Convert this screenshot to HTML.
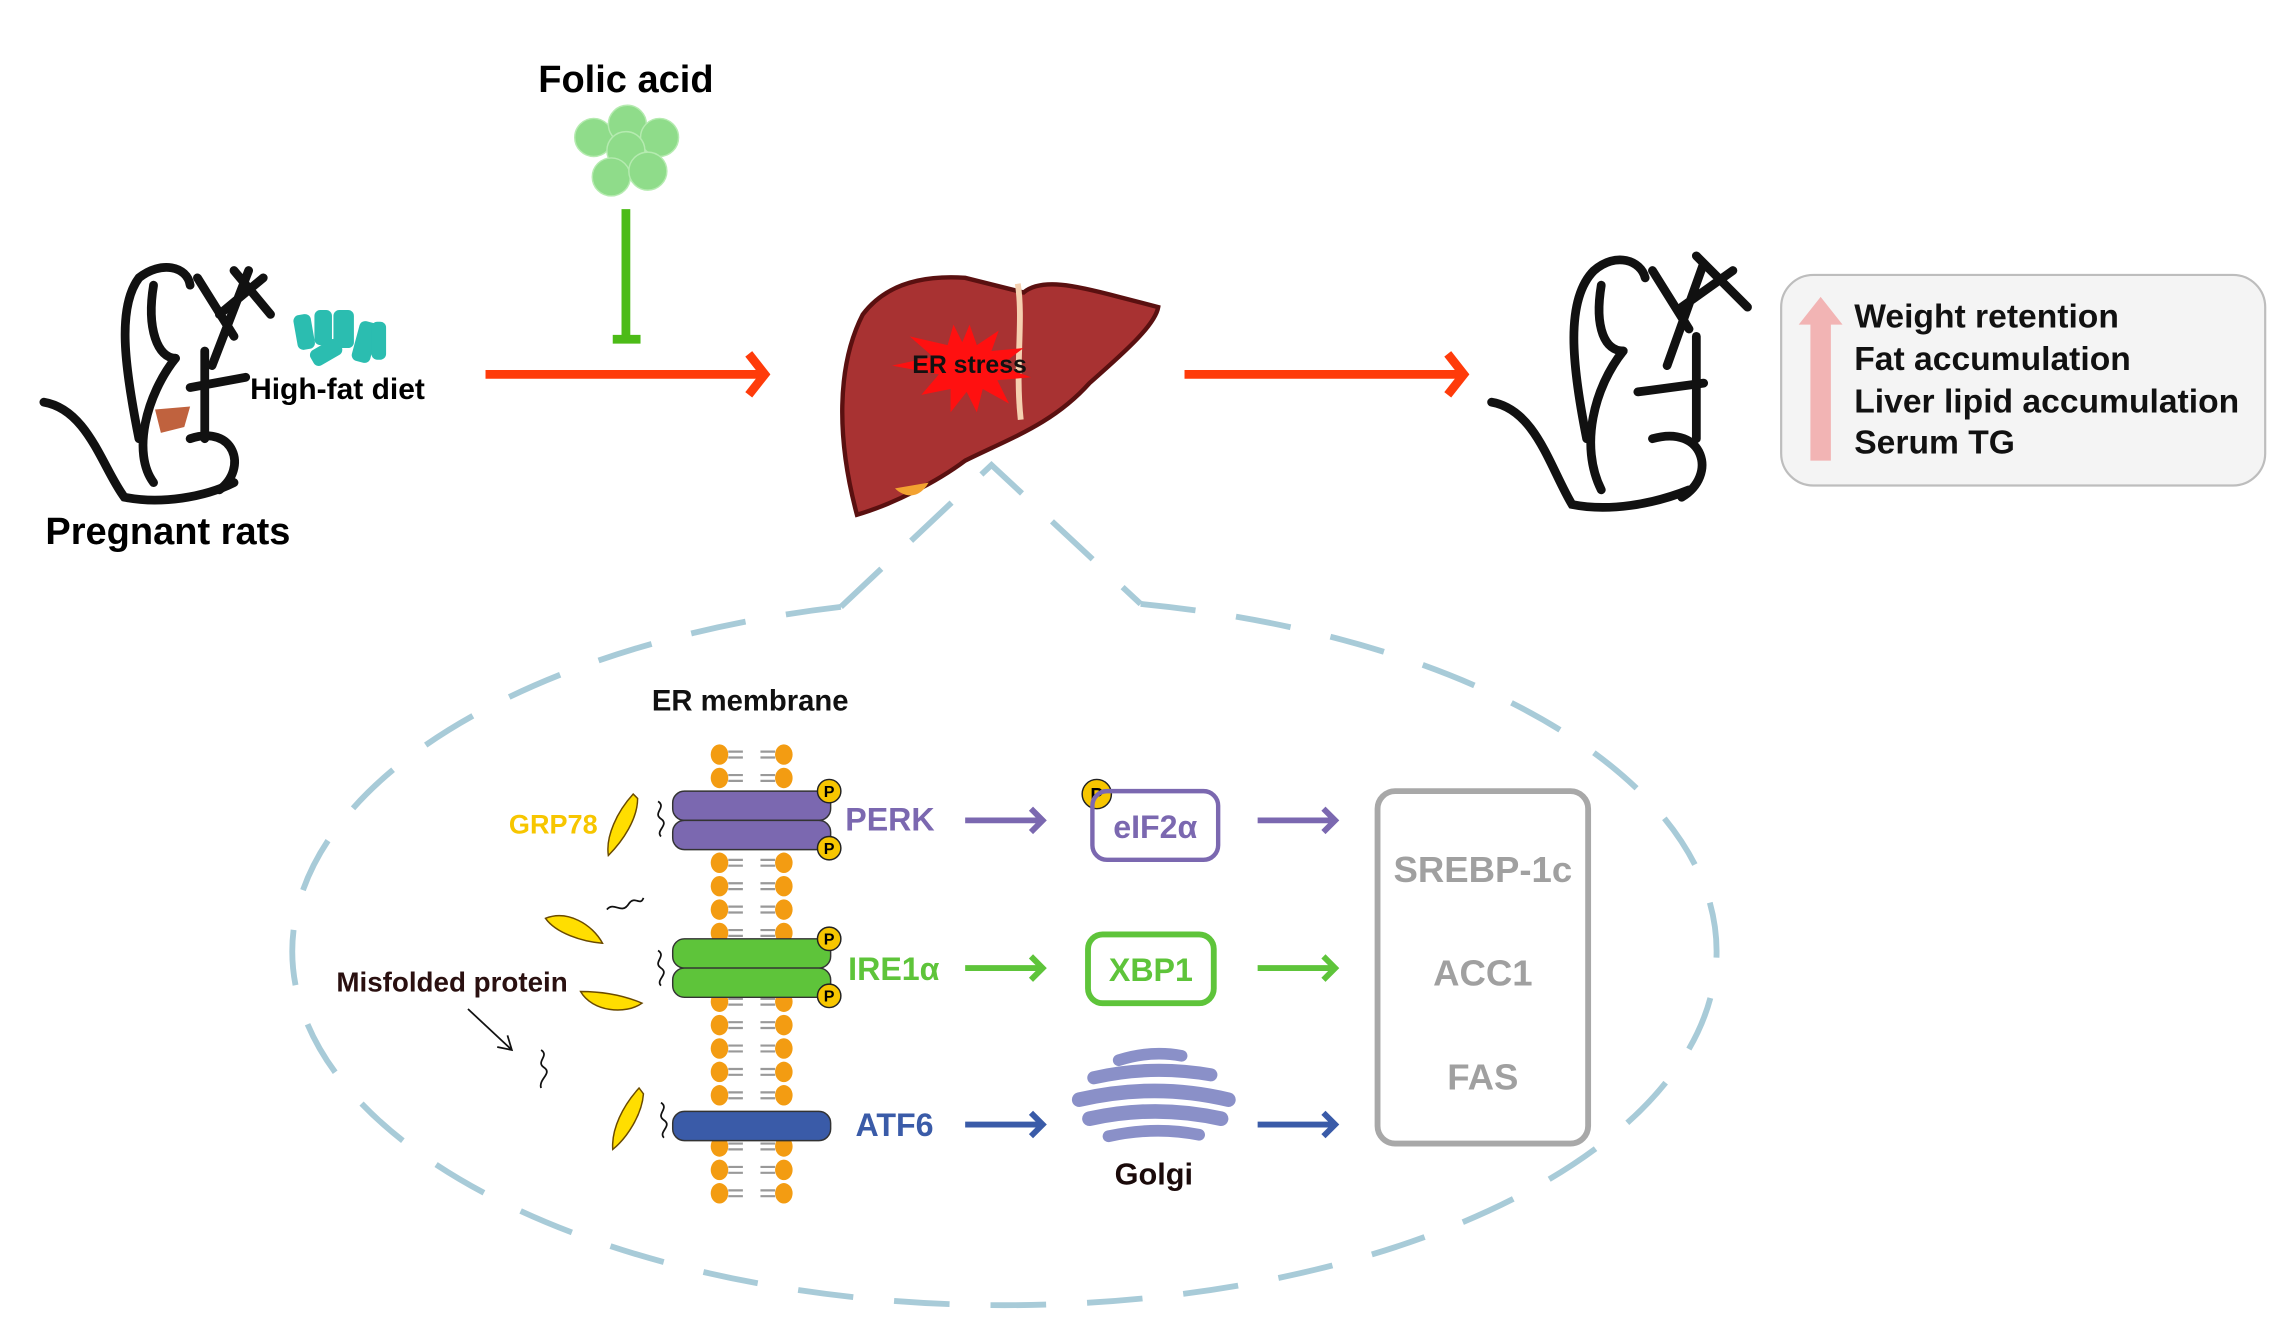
<!DOCTYPE html>
<html><head><meta charset="utf-8"><style>
html,body{margin:0;padding:0;background:#fff;}
svg{display:block;}
text{font-family:"Liberation Sans",Arial,sans-serif;font-weight:bold;}
</style></head><body>
<svg width="2293" height="1330" viewBox="0 0 1568 909.5" xmlns="http://www.w3.org/2000/svg">
<defs>
<g id="lip">
  <ellipse cx="492" cy="0" rx="6" ry="7" fill="#f39c12"/>
  <ellipse cx="536" cy="0" rx="6" ry="7" fill="#f39c12"/>
  <path d="M498,-2 H508 M498,2 H508 M530,-2 H520 M530,2 H520" stroke="#999" stroke-width="1.5"/>
</g>
</defs>
<text x="428" y="63" font-size="26" text-anchor="middle">Folic acid</text>
<g fill="#8fdc8a" stroke="#b5ebb0" stroke-width="1">
<circle cx="406" cy="94" r="13"/><circle cx="429" cy="85" r="13"/><circle cx="451" cy="94" r="13"/>
<circle cx="428" cy="103" r="13"/><circle cx="418" cy="121" r="13"/><circle cx="443" cy="117" r="13"/>
</g>
<line x1="428" y1="143" x2="428" y2="232" stroke="#4cbb17" stroke-width="6"/>
<line x1="419" y1="232" x2="438" y2="232" stroke="#4cbb17" stroke-width="6"/>
<g stroke="#ff3b0a" stroke-width="6" fill="none">
<line x1="332" y1="256" x2="522" y2="256"/><path d="M512,242 L523,256 L512,270"/>
<line x1="810" y1="256" x2="1000" y2="256"/><path d="M990,242 L1001,256 L990,270"/>
</g>
<g stroke="#111" stroke-width="6" fill="none" stroke-linecap="round">
<path d="M95,300 C85,250 80,210 95,190 C110,178 128,182 130,195"/>
<path d="M105,195 C100,225 108,245 120,245"/>
<path d="M120,245 C100,270 90,310 105,330"/>
<path d="M135,190 L160,230 M145,250 L170,185 M150,215 L180,190 M160,185 L185,215"/>
<path d="M30,275 C60,280 70,320 85,340 C110,345 140,340 160,330"/>
<path d="M130,300 C160,290 170,320 150,335"/>
<path d="M130,265 L168,258"/>
<path d="M140,240 L140,300"/>
</g>
<path d="M106,280 L130,278 L126,292 L110,296 Z" fill="#c0623e"/>
<g fill="#2bbdb0">
<rect x="202" y="215" width="12" height="24" rx="4" transform="rotate(-10 208 227)"/>
<rect x="215" y="212" width="12" height="24" rx="4"/>
<rect x="228" y="212" width="14" height="26" rx="4"/>
<rect x="243" y="220" width="13" height="28" rx="4" transform="rotate(15 250 234)"/>
<rect x="254" y="220" width="10" height="26" rx="4"/>
<rect x="212" y="235" width="22" height="12" rx="4" transform="rotate(-30 223 241)"/>
</g>
<text x="171" y="273" font-size="20.5">High-fat diet</text>
<text x="31" y="372" font-size="26">Pregnant rats</text>
<path d="M586,352 C572,300 572,250 590,215 C605,195 630,188 660,190 L700,200 C712,190 735,195 765,203 L792,210 C790,222 770,240 745,262 C720,290 690,300 660,315 C640,330 610,345 586,352 Z" fill="#a83232" stroke="#5a1010" stroke-width="3"/>
<path d="M612,334 C618,340 628,342 635,330" fill="#f3a230"/>
<path d="M696,194 C700,220 694,250 698,287" stroke="#f5d0b0" stroke-width="4" fill="none"/>
<polygon points="663,222 668,236 683,226 678,240 700,238 684,250 705,258 682,260 690,276 672,266 668,282 661,268 650,282 650,266 630,270 642,256 610,250 638,244 622,230 648,236 652,222 658,234" fill="#ff1010"/>
<text x="663" y="255" font-size="17" text-anchor="middle" fill="#111">ER stress</text>
<g stroke="#111" stroke-width="6" fill="none" stroke-linecap="round">
<path d="M1085,300 C1075,250 1070,205 1090,185 C1105,172 1122,178 1125,190"/>
<path d="M1095,195 C1090,225 1098,240 1110,240"/>
<path d="M1110,240 C1090,265 1080,305 1095,335"/>
<path d="M1130,185 L1155,225 M1140,250 L1165,180 M1150,210 L1185,185 M1160,175 L1195,210"/>
<path d="M1020,275 C1050,280 1060,320 1075,345 C1100,350 1130,345 1155,335"/>
<path d="M1130,300 C1165,290 1175,325 1150,340"/>
<path d="M1120,268 L1165,262"/>
<path d="M1160,230 L1160,300"/>
</g>
<rect x="1218" y="188" width="331" height="144" rx="22" fill="#f4f4f4" stroke="#bdbdbd" stroke-width="1.5"/>
<rect x="1238" y="220" width="14" height="95" fill="#f2b4b4"/>
<polygon points="1230,222 1245,203 1260,222" fill="#f2b4b4"/>
<g font-size="23" fill="#111">
<text x="1268" y="224">Weight retention</text>
<text x="1268" y="253">Fat accumulation</text>
<text x="1268" y="282">Liver lipid accumulation</text>
<text x="1268" y="310">Serum TG</text>
</g>
<g stroke="#a8cbd8" stroke-width="4" fill="none" stroke-dasharray="38 28">
<path d="M575,415 A487 242 0 1 0 780,413"/>
<path d="M575,415 L678,318 L780,413"/>
</g>
<text x="513" y="486" font-size="20" text-anchor="middle" fill="#111">ER membrane</text>
<use href="#lip" y="516"/><use href="#lip" y="532"/>
<use href="#lip" y="590"/><use href="#lip" y="606"/><use href="#lip" y="622"/><use href="#lip" y="638"/>
<use href="#lip" y="685"/><use href="#lip" y="701"/><use href="#lip" y="717"/><use href="#lip" y="733"/><use href="#lip" y="749"/>
<use href="#lip" y="784"/><use href="#lip" y="800"/><use href="#lip" y="816"/>
<rect x="460" y="541" width="108" height="20" rx="8" fill="#7b68b0" stroke="#333" stroke-width="1"/>
<rect x="460" y="561" width="108" height="20" rx="8" fill="#7b68b0" stroke="#333" stroke-width="1"/>
<rect x="460" y="642" width="108" height="20" rx="8" fill="#5ec43a" stroke="#333" stroke-width="1"/>
<rect x="460" y="662" width="108" height="20" rx="8" fill="#5ec43a" stroke="#333" stroke-width="1"/>
<rect x="460" y="760" width="108" height="20" rx="8" fill="#3a5ba8" stroke="#333" stroke-width="1"/>
<g font-size="11" text-anchor="middle">
<circle cx="567" cy="541" r="8" fill="#f7c600" stroke="#222"/><text x="567" y="545">P</text>
<circle cx="567" cy="580" r="8" fill="#f7c600" stroke="#222"/><text x="567" y="584">P</text>
<circle cx="567" cy="642" r="8" fill="#f7c600" stroke="#222"/><text x="567" y="646">P</text>
<circle cx="567" cy="681" r="8" fill="#f7c600" stroke="#222"/><text x="567" y="685">P</text>
<circle cx="750" cy="543" r="10" fill="#f7c600" stroke="#222"/><text x="750" y="548" font-size="13">P</text>
</g>
<g fill="#ffde00" stroke="#6a4a00" stroke-width="1">
<path d="M433,543 C422,555 414,572 416,585 C426,575 436,560 436,546 Z"/>
<path d="M373,628 C388,622 405,632 412,645 C398,644 380,638 373,628 Z"/>
<path d="M397,678 C405,692 428,694 439,686 C425,680 410,678 397,678 Z"/>
<path d="M437,744 C426,756 418,772 419,786 C429,778 439,762 440,748 Z"/>
</g>
<g stroke="#111" stroke-width="1.2" fill="none">
<path d="M450,548 c6,4 -4,8 2,12 c6,4 -4,8 0,12"/>
<path d="M450,650 c6,4 -4,8 2,12 c6,4 -4,8 0,12"/>
<path d="M452,754 c6,4 -4,8 2,12 c6,4 -4,8 0,12"/>
<path d="M415,622 c5,-6 10,4 15,-4 c4,-6 8,2 10,-4"/>
<path d="M370,718 c6,4 -4,8 2,12 c6,4 -4,8 -2,14"/>
<line x1="320" y1="690" x2="350" y2="718"/>
<path d="M340,716 L350,718 L347,708"/>
</g>
<text x="348" y="570" font-size="18.5" fill="#f7c600">GRP78</text>
<text x="230" y="678" font-size="19" fill="#2a1010">Misfolded protein</text>
<text x="578" y="568" font-size="22" fill="#7b68b0">PERK</text>
<text x="580" y="670" font-size="22" fill="#5ec43a">IRE1α</text>
<text x="585" y="777" font-size="22" fill="#3a5ba8">ATF6</text>
<g stroke-width="4" fill="none">
<g stroke="#7b68b0"><path d="M660,561 H713 M705,553 L713,561 L705,569"/><path d="M860,561 H913 M905,553 L913,561 L905,569"/></g>
<g stroke="#5ec43a"><path d="M660,662 H713 M705,654 L713,662 L705,670"/><path d="M860,662 H913 M905,654 L913,662 L905,670"/></g>
<g stroke="#3a5ba8"><path d="M660,769 H713 M705,761 L713,769 L705,777"/><path d="M860,769 H913 M905,761 L913,769 L905,777"/></g>
</g>
<rect x="747" y="541" width="86" height="47" rx="10" fill="none" stroke="#7b68b0" stroke-width="3"/>
<text x="790" y="573" font-size="22" fill="#7b68b0" text-anchor="middle">eIF2α</text>
<rect x="744" y="639" width="86" height="47" rx="10" fill="none" stroke="#5ec43a" stroke-width="4"/>
<text x="787" y="671" font-size="22" fill="#5ec43a" text-anchor="middle">XBP1</text>
<g stroke="#8a90c8" stroke-linecap="round" fill="none">
<path d="M765,725 Q787,718 808,722" stroke-width="8"/>
<path d="M748,737 Q787,728 828,735" stroke-width="9"/>
<path d="M738,752 Q790,740 840,752" stroke-width="10"/>
<path d="M745,765 Q790,755 835,765" stroke-width="10"/>
<path d="M758,777 Q790,770 820,776" stroke-width="8"/>
</g>
<text x="789" y="810" font-size="21" text-anchor="middle" fill="#1a0a0a">Golgi</text>
<rect x="942" y="541" width="144" height="241" rx="12" fill="none" stroke="#a8a8a8" stroke-width="4"/>
<g font-size="25" fill="#a0a0a0" text-anchor="middle">
<text x="1014" y="603">SREBP-1c</text><text x="1014" y="674">ACC1</text><text x="1014" y="745">FAS</text>
</g>
</svg>
</body></html>
